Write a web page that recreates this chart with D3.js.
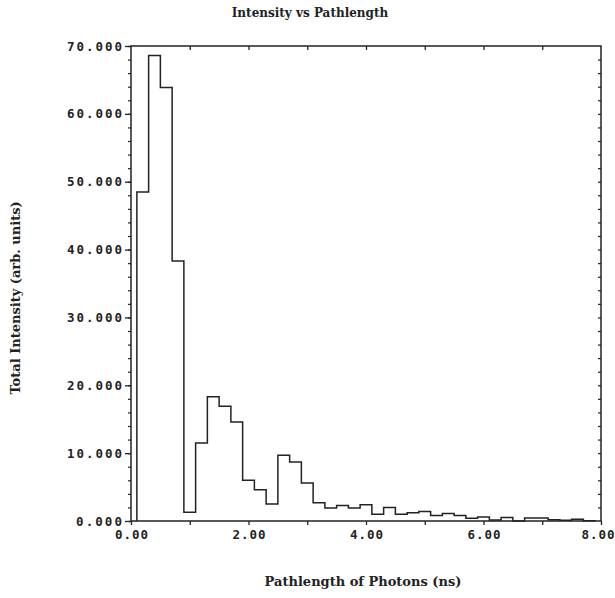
<!DOCTYPE html>
<html>
<head>
<meta charset="utf-8">
<script src="https://cdn.jsdelivr.net/npm/d3@7"></script>
<style>
  body { margin: 0; background: #fff; }
  svg { display: block; }
  .lbl { font-family: "DejaVu Serif", serif; font-weight: bold; fill: #222; }
  .tick-lbl { font-family: "DejaVu Sans Mono", monospace; font-weight: bold; font-size: 12.5px; fill: #222; }
</style>
</head>
<body>
<svg id="chart" width="615" height="598"></svg>
<script>
// bin edges (ns) and intensity per bin
const binEdges = [0.1, 0.3, 0.5, 0.7, 0.9, 1.1, 1.3, 1.5, 1.7, 1.9,
                  2.1, 2.3, 2.5, 2.7, 2.9, 3.1, 3.3, 3.5, 3.7, 3.9,
                  4.1, 4.3, 4.5, 4.7, 4.9, 5.1, 5.3, 5.5, 5.7, 5.9,
                  6.1, 6.3, 6.5, 6.7, 6.9, 7.1, 7.3, 7.5, 7.7, 7.9];
const intensity = [48.5, 68.6, 63.9, 38.3, 1.3, 11.5, 18.3, 16.9, 14.6, 6.0,
                   4.6, 2.5, 9.7, 8.7, 5.6, 2.7, 1.9, 2.3, 1.9, 2.4,
                   1.0, 2.0, 1.0, 1.2, 1.4, 0.8, 1.1, 0.8, 0.4, 0.6,
                   0.15, 0.5, 0.0, 0.45, 0.45, 0.2, 0.1, 0.25, 0.05];
const xTickLabels = ["0.00", "2.00", "4.00", "6.00", "8.00"];
const yTickLabels = ["0.000", "10.000", "20.000", "30.000", "40.000", "50.000", "60.000", "70.000"];

const mLeft = 131, mRight = 601, mTop = 46, mBottom = 521;
const svg = d3.select("#chart");

const x = d3.scaleLinear().domain([0, 8]).range([mLeft, mRight]);
const y = d3.scaleLinear().domain([0, 70]).range([mBottom, mTop]);

const ink = "#222";

// frame
svg.append("rect")
    .attr("x", mLeft).attr("y", mTop)
    .attr("width", mRight - mLeft).attr("height", mBottom - mTop)
    .attr("fill", "none").attr("stroke", ink).attr("stroke-width", 1.5);

// bottom axis: ticks every 1 ns, labels every 2
const bottomAxis = d3.axisBottom(x)
    .tickValues(d3.range(0, 8.01, 1))
    .tickSize(4)
    .tickFormat((d, i) => (i % 2 === 0 ? xTickLabels[i / 2] : ""));
const gb = svg.append("g").attr("transform", `translate(0,${mBottom})`).call(bottomAxis);
gb.select(".domain").remove();
gb.selectAll("line").attr("stroke", ink).attr("stroke-width", 1.3);
gb.selectAll("text").attr("class", "tick-lbl").attr("dy", "0.9em")
    .attr("textLength", d => (d % 2 === 0 ? 33 : null))
    .attr("lengthAdjust", "spacing");
// last label sits at the window edge; pull it in so it stays whole
gb.selectAll("text").filter(d => d === 8)
    .attr("text-anchor", "end").attr("x", 13);

// top axis ticks (inward)
const gt = svg.append("g").attr("transform", `translate(0,${mTop})`)
    .call(d3.axisBottom(x).tickValues(d3.range(1, 8, 1)).tickSize(4).tickFormat(""));
gt.select(".domain").remove();
gt.selectAll("line").attr("stroke", ink).attr("stroke-width", 1.3);

// left axis: major every 10, minor every 2
const gl = svg.append("g").attr("transform", `translate(${mLeft},0)`)
    .call(d3.axisLeft(y).tickValues(d3.range(0, 70.1, 2)).tickSize(3).tickFormat(""));
gl.select(".domain").remove();
gl.selectAll("line").attr("stroke", ink).attr("stroke-width", 1.2);

const glMaj = svg.append("g").attr("transform", `translate(${mLeft},0)`)
    .call(d3.axisLeft(y).tickValues(d3.range(0, 70.1, 10)).tickSize(6)
        .tickFormat((d, i) => yTickLabels[i]));
glMaj.select(".domain").remove();
glMaj.selectAll("line").attr("stroke", ink).attr("stroke-width", 1.3);
glMaj.selectAll("text").attr("class", "tick-lbl").attr("x", -9)
    .attr("textLength", d => (d === 0 ? 46 : 55)).attr("lengthAdjust", "spacing");

// right axis ticks (inward)
const gr = svg.append("g").attr("transform", `translate(${mRight},0)`)
    .call(d3.axisRight(y).tickValues(d3.range(2, 70, 2)).tickSize(-3).tickFormat(""));
gr.select(".domain").remove();
gr.selectAll("line").attr("stroke", ink).attr("stroke-width", 1.2);

// histogram outline
const pts = [[binEdges[0], 0]];
intensity.forEach((v, i) => pts.push([binEdges[i], v]));
pts.push([binEdges[binEdges.length - 1], 0]);

const line = d3.line()
    .x(d => x(d[0]))
    .y(d => y(d[1]))
    .curve(d3.curveStepAfter);

svg.append("path")
    .datum(pts)
    .attr("d", line)
    .attr("fill", "none")
    .attr("stroke", ink)
    .attr("stroke-width", 1.5);

// titles
svg.append("text").attr("class", "lbl")
    .attr("x", 310).attr("y", 17)
    .attr("text-anchor", "middle").attr("font-size", 12)
    .text("Intensity vs Pathlength");

svg.append("text").attr("class", "lbl")
    .attr("x", 363).attr("y", 586)
    .attr("text-anchor", "middle").attr("font-size", 13)
    .text("Pathlength of Photons (ns)");

svg.append("text").attr("class", "lbl")
    .attr("transform", "translate(20,298) rotate(-90)")
    .attr("text-anchor", "middle").attr("font-size", 13)
    .text("Total Intensity (arb. units)");
</script>
</body>
</html>
